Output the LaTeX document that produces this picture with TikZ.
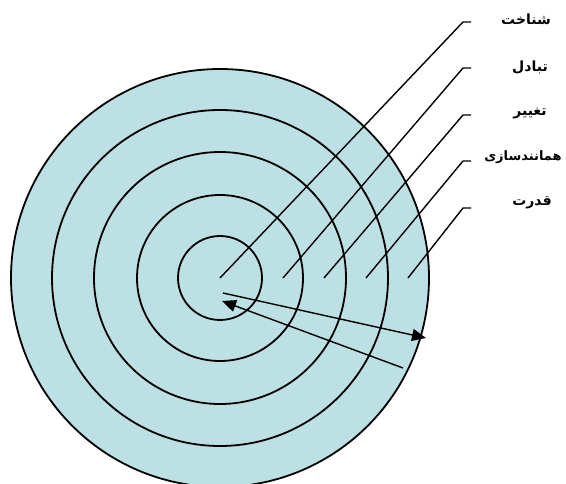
\documentclass[tikz,border=0pt]{standalone}
\usepackage{fontspec}
\usepackage{xcolor}
\usetikzlibrary{arrows.meta}
\TeXXeTstate=1
\newfontfamily\arabicfont[Script=Arabic]{DejaVu Sans}
\definecolor{ringblue}{RGB}{189,224,228}

\begin{document}
\begin{tikzpicture}[x=1pt,y=-1pt,>={Triangle[length=14pt,width=12pt]},
  ring/.style={line width=1.8pt},
  leader/.style={line width=1.4pt},
  lbl/.style={font=\arabicfont\bfseries\fontsize{14}{16}\selectfont}]
\useasboundingbox (0,0) rectangle (566,484);
% rings
\coordinate (c) at (220,278);
\fill[ringblue] (c) circle (209pt);
\foreach \r in {42,83,126,168,209}
  \draw[ring] (c) circle (\r pt);
% labels
\node[lbl] (l1) at (526,19) {\beginR شناخت\endR};
\node[lbl] (l2) at (530,67) {\beginR تبادل\endR};
\node[lbl] (l3) at (530,114) {\beginR تغییر\endR};
\node[lbl,font=\arabicfont\bfseries\fontsize{13}{15}\selectfont] (l4) at (523,157) {\beginR همانندسازی\endR};
\node[lbl] (l5) at (532,203) {\beginR قدرت\endR};
% leaders
\foreach \i/\x/\y in {1/220/22,2/283/68,3/324/115,4/366/161,5/408/208}{
  \coordinate (p\i) at (\x,278);
  \coordinate (b\i) at (463,\y);
  \coordinate (e\i) at (471,\y);
  \draw[leader] (p\i) -- (b\i) -- (e\i);
}
% arrows
\coordinate (a1) at (223,293);
\coordinate (a2) at (426,338);
\coordinate (a3) at (403,368);
\coordinate (a4) at (222,301);
\draw[leader,->] (a1) -- (a2);
\draw[leader,->] (a3) -- (a4);
\end{tikzpicture}
\end{document}
